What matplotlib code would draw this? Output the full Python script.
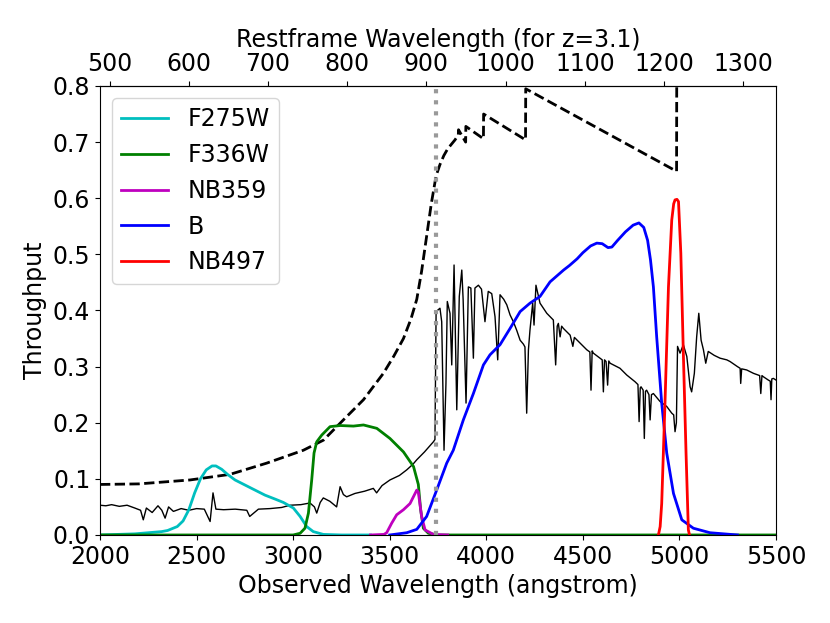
import numpy as np
import matplotlib.pyplot as plt

z = 3.1
lyman_limit = 912.0 * (1 + z)

# model spectrum (arbitrary scaling)
spec_wave = [2000, 2030, 2060, 2100, 2140, 2180, 2210, 2224, 2240, 2270, 2300, 2320, 2337,
             2355, 2380, 2420, 2460, 2500, 2540, 2570, 2585, 2600, 2640, 2700, 2760, 2775,
             2820, 2880, 2940, 2984, 3040, 3087, 3110, 3122, 3140, 3156, 3190, 3225, 3243,
             3260, 3277, 3320, 3370, 3415, 3432, 3460, 3501, 3550, 3588, 3620, 3640, 3680,
             3726, 3734, 3740, 3760, 3769, 3781, 3791, 3798, 3812, 3821, 3833, 3847, 3860,
             3873, 3880, 3895, 3907, 3920, 3933, 3941, 3959, 3975, 3993, 4010, 4028, 4045,
             4059, 4071, 4090, 4106, 4123, 4140, 4157, 4175, 4192, 4200, 4209, 4218, 4226,
             4240, 4247, 4257, 4278, 4313, 4347, 4359, 4367, 4373, 4382, 4390, 4399, 4434,
             4448, 4456, 4485, 4520, 4536, 4542, 4548, 4554, 4589, 4600, 4606, 4612, 4620,
             4628, 4634, 4641, 4692, 4727, 4770, 4785, 4791, 4797, 4801, 4812, 4818, 4824,
             4830, 4842, 4848, 4855, 4865, 4899, 4934, 4960, 4970, 4977, 4984, 4990, 5003,
             5020, 5038, 5055, 5063, 5077, 5089, 5100, 5112, 5124, 5136, 5149, 5180, 5210,
             5245, 5262, 5300, 5314, 5317, 5322, 5348, 5383, 5415, 5421, 5427, 5434, 5460,
             5470, 5474, 5478, 5486, 5500]
spec_flux = [0.053, 0.052, 0.054, 0.051, 0.053, 0.048, 0.044, 0.027, 0.048, 0.040, 0.052, 0.044,
             0.030, 0.050, 0.042, 0.047, 0.044, 0.047, 0.046, 0.024, 0.075, 0.046, 0.045, 0.046,
             0.044, 0.033, 0.046, 0.047, 0.049, 0.053, 0.054, 0.057, 0.050, 0.039, 0.058, 0.066,
             0.060, 0.050, 0.086, 0.072, 0.068, 0.074, 0.078, 0.083, 0.075, 0.088, 0.098, 0.106,
             0.116, 0.126, 0.134, 0.148, 0.166, 0.170, 0.398, 0.404, 0.380, 0.151, 0.270, 0.416,
             0.395, 0.303, 0.481, 0.223, 0.425, 0.472, 0.419, 0.235, 0.442, 0.440, 0.315, 0.440,
             0.445, 0.438, 0.380, 0.434, 0.430, 0.389, 0.312, 0.428, 0.420, 0.410, 0.392, 0.380,
             0.365, 0.347, 0.340, 0.335, 0.217, 0.330, 0.365, 0.413, 0.374, 0.445, 0.413, 0.395,
             0.383, 0.303, 0.372, 0.377, 0.353, 0.372, 0.368, 0.356, 0.336, 0.352, 0.342, 0.330,
             0.326, 0.258, 0.328, 0.324, 0.315, 0.312, 0.255, 0.312, 0.309, 0.267, 0.310, 0.306,
             0.297, 0.285, 0.273, 0.268, 0.202, 0.262, 0.264, 0.258, 0.172, 0.256, 0.258, 0.250,
             0.205, 0.250, 0.252, 0.238, 0.229, 0.217, 0.214, 0.184, 0.200, 0.336, 0.324, 0.339,
             0.318, 0.264, 0.255, 0.288, 0.353, 0.395, 0.347, 0.330, 0.306, 0.327, 0.320, 0.315,
             0.312, 0.309, 0.300, 0.297, 0.270, 0.296, 0.294, 0.288, 0.284, 0.252, 0.284, 0.282,
             0.276, 0.274, 0.241, 0.278, 0.279, 0.276]

# IGM transmission-like envelope
igm_wave = [2000, 2200, 2466, 2673, 2863, 3053, 3157, 3260, 3364, 3467, 3520, 3571, 3610,
            3640, 3665, 3690, 3715, 3740, 3760, 3780, 3800, 3838, 3855, 3856, 3893, 3894,
            3985, 3986, 4203, 4204, 4985, 4986]
igm_thru = [0.090, 0.091, 0.098, 0.108, 0.128, 0.151, 0.169, 0.205, 0.241, 0.288, 0.318, 0.350,
            0.385, 0.420, 0.470, 0.530, 0.590, 0.640, 0.660, 0.676, 0.688, 0.704, 0.713, 0.722,
            0.700, 0.728, 0.706, 0.750, 0.704, 0.795, 0.648, 0.85]

f275w_wave = [2000, 2181, 2319, 2350, 2400, 2430, 2460, 2490, 2520, 2550, 2580, 2600, 2630,
              2660, 2699, 2785, 2854, 2906, 2949, 3001, 3036, 3070, 3104, 3156, 3250, 3400]
f275w_thru = [0.0, 0.002, 0.006, 0.008, 0.015, 0.025, 0.045, 0.075, 0.100, 0.116, 0.123, 0.123,
              0.117, 0.108, 0.098, 0.083, 0.071, 0.064, 0.058, 0.048, 0.033, 0.015, 0.006, 0.001,
              0.0, 0.0]

f336w_wave = [2000, 3000, 3036, 3061, 3079, 3096, 3108, 3122, 3148, 3191, 3243, 3312, 3364,
              3433, 3501, 3571, 3623, 3648, 3660, 3674, 3700, 3750, 5500]
f336w_thru = [0.0, 0.0, 0.003, 0.012, 0.039, 0.098, 0.146, 0.166, 0.178, 0.193, 0.195, 0.194,
              0.196, 0.190, 0.172, 0.148, 0.122, 0.090, 0.045, 0.012, 0.003, 0.0, 0.0]

nb359_wave = [3400, 3470, 3484, 3510, 3536, 3571, 3605, 3640, 3648, 3665, 3683, 3726, 3800]
nb359_thru = [0.0, 0.001, 0.004, 0.021, 0.036, 0.045, 0.056, 0.080, 0.076, 0.033, 0.009, 0.001, 0.0]

b_wave = [3500, 3588, 3640, 3691, 3743, 3795, 3829, 3881, 3933, 3985, 4019, 4071, 4123, 4175,
          4226, 4278, 4330, 4400, 4430, 4470, 4500, 4540, 4572, 4600, 4630, 4650, 4680, 4720,
          4760, 4790, 4815, 4835, 4850, 4865, 4882, 4908, 4934, 4969, 5012, 5072, 5158, 5300]
b_thru = [0.0, 0.004, 0.010, 0.033, 0.080, 0.128, 0.151, 0.205, 0.252, 0.303, 0.321, 0.339,
          0.368, 0.398, 0.413, 0.425, 0.451, 0.472, 0.480, 0.492, 0.503, 0.515, 0.520, 0.519,
          0.512, 0.513, 0.525, 0.540, 0.552, 0.556, 0.548, 0.525, 0.490, 0.442, 0.353, 0.235,
          0.146, 0.074, 0.027, 0.012, 0.004, 0.0]

nb497_wave = [4891, 4900, 4908, 4925, 4943, 4960, 4970, 4977, 4987, 4995, 5007, 5020, 5034, 5046, 5052]
nb497_thru = [0.0, 0.015, 0.056, 0.235, 0.442, 0.561, 0.590, 0.597, 0.598, 0.594, 0.502, 0.324,
              0.146, 0.009, 0.0]

plt.rcParams['font.size'] = 17

fig = plt.figure(figsize=(8.3, 6.23), dpi=100)
ax = fig.add_axes([0.1205, 0.1413, 0.8145, 0.7207])

ax.plot(spec_wave, spec_flux, color='k', lw=1)
ax.plot(igm_wave, igm_thru, color='k', lw=2, ls='--')
ax.plot(f275w_wave, f275w_thru, color='c', lw=2, label='F275W')
ax.plot(f336w_wave, f336w_thru, color='g', lw=2, label='F336W')
ax.plot(nb359_wave, nb359_thru, color='m', lw=2, label='NB359')
ax.plot(b_wave, b_thru, color='b', lw=2, label='B')
ax.plot(nb497_wave, nb497_thru, color='r', lw=2, label='NB497')
ax.axvline(lyman_limit, color='0.6', lw=3, ls=':')

ax.set_xlim(2000, 5500)
ax.set_ylim(0, 0.8)
ax.set_xlabel('Observed Wavelength (angstrom)')
ax.set_ylabel('Throughput')
ax.legend(loc='upper left')

top = ax.secondary_xaxis('top', functions=(lambda x: x / (1 + z), lambda x: x * (1 + z)))
top.set_xticks(np.arange(500, 1301, 100))
top.set_xlabel('Restframe Wavelength (for z=3.1)')

fig.savefig('out.png', dpi=100)
